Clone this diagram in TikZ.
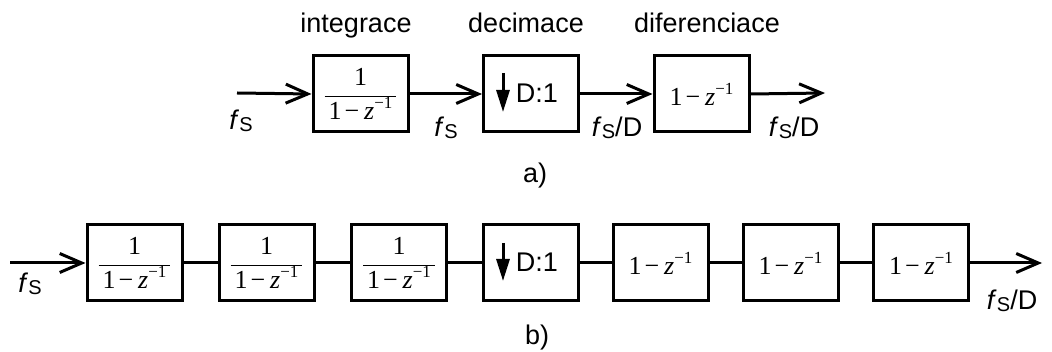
\documentclass[tikz,border=0pt]{standalone}
\usepackage{fontspec}
\setmainfont{Liberation Sans}
\newfontfamily\tms{Liberation Serif}
\usetikzlibrary{arrows.meta}
\newcommand{\fsub}{\textit{f}\kern0.3pt\raisebox{-1.5pt}{\fontsize{20}{20}\selectfont S}}
\newcommand{\zsup}{\textit{z}\raisebox{11pt}{\fontsize{17}{17}\selectfont −1}}
\newcommand{\diffexpr}{{\tms\fontsize{26}{30}\selectfont 1\kern3pt−\kern5pt\zsup}}
\newcommand{\intexpr}{{\tms\fontsize{26}{30}\selectfont$\displaystyle\frac{\mbox{1}}{\mbox{\kern4pt1\kern3pt−\kern5pt\zsup\kern4pt}}$}}
\begin{document}
\begin{tikzpicture}[x=1pt,y=-1pt,
  blk/.style={draw, line width=3pt, minimum width=95pt, minimum height=76pt, inner sep=0pt},
  lbl/.style={font=\fontsize{27}{31}\selectfont, anchor=base, inner sep=0pt},
  wire/.style={line width=3pt},
  arr/.style={line width=3pt, -{Straight Barb[length=22pt,width=19pt]}},
  darr/.style={line width=3pt, -{Triangle[length=22pt,width=13pt]}}]
\useasboundingbox (0,0) rectangle (1052,352);
% ---- a) ----
\node[blk] (A1) at (360.5,94) {\intexpr};
\node[blk] (A2) at (531,94) {};
\node[lbl, anchor=center] (A2t) at (537,93) {D:1};
\node[blk] (A3) at (701.5,94) {\diffexpr};
\coordinate (ai) at (237,93);
\coordinate (ao) at (825,93);
\draw[arr] (ai) -- (A1.west);
\draw[arr] (A1.east) -- (A2.west);
\draw[arr] (A2.east) -- (A3.west);
\draw[arr] (A3.east) -- (ao);
\draw[darr] ([shift={(-28,-21)}]A2.center) -- ([shift={(-28,18)}]A2.center);
\node[lbl] (Li) at (356,33) {integrace};
\node[lbl] (Ld) at (526,33) {decimace};
\node[lbl] (Lf) at (707,33) {diferenciace};
\node[lbl] (f1) at (241,130) {\fsub};
\node[lbl] (f2) at (446,137) {\fsub};
\node[lbl] (f3) at (617,137) {\fsub/D};
\node[lbl] (f4) at (794,137) {\fsub/D};
\node[lbl] (La) at (535,183) {a)};
% ---- b) ----
\node[blk] (B1) at (134.5,263) {\intexpr};
\node[blk] (B2) at (266.5,263) {\intexpr};
\node[blk] (B3) at (399,263) {\intexpr};
\node[blk] (B4) at (530.5,263) {};
\node[lbl, anchor=center] (B4t) at (537,262) {D:1};
\node[blk] (B5) at (660.5,263) {\diffexpr};
\node[blk] (B6) at (790.5,263) {\diffexpr};
\node[blk] (B7) at (921,263) {\diffexpr};
\coordinate (bi) at (10,263);
\coordinate (bo) at (1042,263);
\draw[arr] (bi) -- (B1.west);
\draw[wire] (B1.east) -- (B2.west);
\draw[wire] (B2.east) -- (B3.west);
\draw[wire] (B3.east) -- (B4.west);
\draw[wire] (B4.east) -- (B5.west);
\draw[wire] (B5.east) -- (B6.west);
\draw[wire] (B6.east) -- (B7.west);
\draw[arr] (B7.east) -- (bo);
\draw[darr] ([shift={(-27.5,-20)}]B4.center) -- ([shift={(-27.5,18)}]B4.center);
\node[lbl] (g1) at (30,293) {\fsub};
\node[lbl] (g2) at (1012,310) {\fsub/D};
\node[lbl] (Lb) at (537,345) {b)};
\end{tikzpicture}
\end{document}
